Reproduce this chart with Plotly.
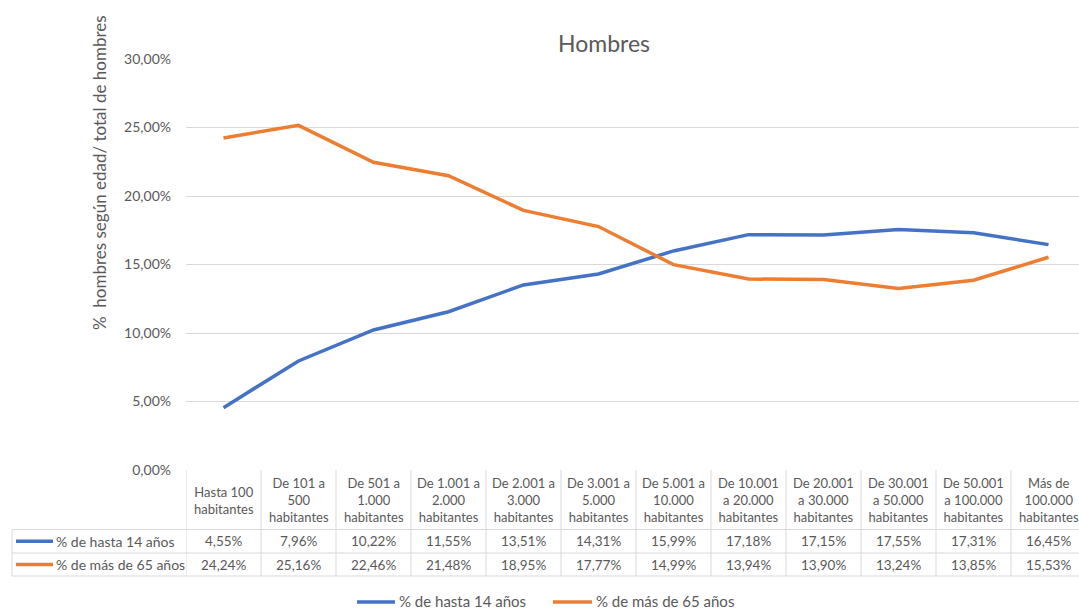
import plotly.graph_objects as go

# Datos (porcentaje de hombres según edad por tamaño de municipio)
categorias = [
    "Hasta 100<br>habitantes",
    "De 101 a<br>500<br>habitantes",
    "De 501 a<br>1.000<br>habitantes",
    "De 1.001 a<br>2.000<br>habitantes",
    "De 2.001 a<br>3.000<br>habitantes",
    "De 3.001 a<br>5.000<br>habitantes",
    "De 5.001 a<br>10.000<br>habitantes",
    "De 10.001<br>a 20.000<br>habitantes",
    "De 20.001<br>a 30.000<br>habitantes",
    "De 30.001<br>a 50.000<br>habitantes",
    "De 50.001<br>a 100.000<br>habitantes",
    "Más de<br>100.000<br>habitantes",
]
hasta_14 = [4.55, 7.96, 10.22, 11.55, 13.51, 14.31, 15.99, 17.18, 17.15, 17.55, 17.31, 16.45]
mas_65 = [24.24, 25.16, 22.46, 21.48, 18.95, 17.77, 14.99, 13.94, 13.90, 13.24, 13.85, 15.53]
series = [
    ("% de hasta 14 años", hasta_14, "#4472C4"),
    ("% de más de 65 años", mas_65, "#ED7D31"),
]
y_ticks = [0, 0.05, 0.10, 0.15, 0.20, 0.25, 0.30]

W, H = 1079, 610
FONT = "Lato, Noto Sans, sans-serif"
GREY = "#595959"
GRID = "#D9D9D9"


# posiciones en píxeles -> coordenadas "paper"
def px_x(p):
    return p / W


def px_y(p):
    return 1 - p / H


n = len(categorias)
xs = list(range(n))
col_w = 75.0
plot_left = 186
x_max = (W - plot_left) / col_w - 0.5

fig = go.Figure()
for name, vals, color in series:
    fig.add_trace(go.Scatter(
        x=xs, y=[v / 100 for v in vals], mode="lines", name=name,
        line=dict(color=color, width=3.5), showlegend=False,
    ))

shapes = []
annotations = []

# tabla de datos bajo el eje
row_top, row1, row2, row_bot = 470, 529.5, 553, 576
for i in range(n):
    shapes.append(dict(type="line", xref="x", yref="paper", x0=i - 0.5, x1=i - 0.5,
                       y0=px_y(row_top), y1=px_y(row_bot), line=dict(color=GRID, width=1)))
shapes.append(dict(type="line", xref="paper", yref="paper", x0=px_x(12), x1=px_x(12),
                   y0=px_y(row1), y1=px_y(row_bot), line=dict(color=GRID, width=1)))
for yy in (row1, row2, row_bot):
    shapes.append(dict(type="line", xref="paper", yref="paper", x0=px_x(12), x1=1,
                       y0=px_y(yy), y1=px_y(yy), line=dict(color=GRID, width=1)))

for i, cat in enumerate(categorias):
    annotations.append(dict(x=i, y=px_y(500), xref="x", yref="paper", text=cat,
                            showarrow=False, font=dict(size=13, color=GREY, family=FONT),
                            xanchor="center", yanchor="middle", align="center"))

for r, (name, vals, color) in enumerate(series):
    yc = (row1 + row2) / 2 if r == 0 else (row2 + row_bot) / 2
    for i, v in enumerate(vals):
        annotations.append(dict(x=i, y=px_y(yc), xref="x", yref="paper",
                                text=f"{v:.2f}%".replace(".", ","), showarrow=False,
                                font=dict(size=13.5, color=GREY, family=FONT),
                                xanchor="center", yanchor="middle"))
    shapes.append(dict(type="line", xref="paper", yref="paper", x0=px_x(16), x1=px_x(53),
                       y0=px_y(yc), y1=px_y(yc), line=dict(color=color, width=3.5)))
    annotations.append(dict(x=px_x(54), y=px_y(yc), xref="paper", yref="paper", text=name,
                            showarrow=False, font=dict(size=14, color=GREY, family=FONT),
                            xanchor="left", yanchor="middle"))

# leyenda inferior
legend_y = 601
legend_pos = [(357, 395, 397), (553, 592, 594)]
for (name, vals, color), (l0, l1, tx) in zip(series, legend_pos):
    shapes.append(dict(type="line", xref="paper", yref="paper", x0=px_x(l0), x1=px_x(l1),
                       y0=px_y(legend_y + 1), y1=px_y(legend_y + 1),
                       line=dict(color=color, width=3.5)))
    annotations.append(dict(x=px_x(tx), y=px_y(legend_y), xref="paper", yref="paper", text=name,
                            showarrow=False, font=dict(size=15, color=GREY, family=FONT),
                            xanchor="left", yanchor="middle"))

# titulo del eje Y
annotations.append(dict(x=px_x(99), y=px_y(173), xref="paper", yref="paper",
                        text="%  hombres según edad/ total de hombres", textangle=-90,
                        showarrow=False, font=dict(size=17, color=GREY, family=FONT),
                        xanchor="center", yanchor="middle"))

fig.update_layout(
    width=W, height=H,
    margin=dict(l=0, r=0, t=0, b=0),
    paper_bgcolor="white", plot_bgcolor="white",
    font=dict(family=FONT, color=GREY),
    separators=",.",
    showlegend=False,
    title=dict(text="Hombres", x=px_x(604), y=px_y(44), xanchor="center", yanchor="middle",
               font=dict(size=23, color=GREY, family=FONT)),
    xaxis=dict(domain=[px_x(plot_left), 1], range=[-0.5, x_max], showticklabels=False,
               showgrid=False, zeroline=False, showline=False, ticks="", automargin=False),
    yaxis=dict(domain=[px_y(470), px_y(59)], range=[0, 0.30], tickvals=y_ticks,
               tickformat=".2%", showgrid=True, gridcolor=GRID, gridwidth=1,
               zeroline=False, showline=False, ticks="", ticklabelstandoff=14,
               automargin=False, tickfont=dict(size=14, color=GREY, family=FONT)),
    shapes=shapes,
    annotations=annotations,
    hovermode=False,
)

# sin el margen por defecto del <body>, la figura ocupa exactamente la ventana
fig.write_html(
    "out.html",
    config={"displayModeBar": False},
    post_script="document.body.style.margin='0';"
                "document.documentElement.style.overflow='hidden';"
                "document.body.style.overflow='hidden';",
)
